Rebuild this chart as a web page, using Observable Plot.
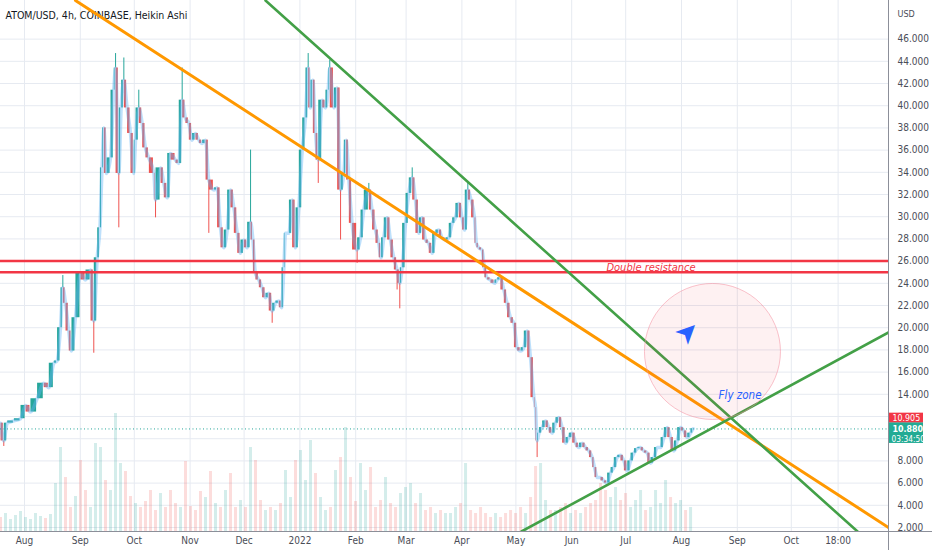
<!DOCTYPE html>
<html><head><meta charset="utf-8">
<script src="https://cdn.jsdelivr.net/npm/d3@7"></script>
<script src="https://cdn.jsdelivr.net/npm/@observablehq/plot@0.6"></script>
<style>
body{margin:0;background:#fff;}
#chart{position:relative;width:932px;height:550px;overflow:hidden;}
#chart svg{position:absolute;left:0;top:0;}
</style></head><body><div id="chart"></div>
<script>
// ---------- DATA ----------
const baseDate = Date.UTC(2021, 7, 1); // day 0 = 2021-08-01
// price samples: day offsets from base date and (Heikin Ashi) close
const priceDays = [
  -13.3,-11.5,-9.6,-5.9,-2.2,0.6,3.3,7.0,10.7,13.5,
  16.3,18.1,20.0,21.3,22.8,24.6,26.1,28.3,31.1,33.9,
  36.7,38.5,40.4,41.9,43.1,44.1,45.6,47.8,49.6,50.6,
  52.4,53.7,55.2,57.0,58.9,60.7,61.7,63.5,65.4,67.2,
  69.1,71.9,72.8,75.6,77.4,79.3,81.1,83.9,
  85.7,87.6,89.4,91.3,93.1,95.0,96.9,98.7,100.6,102.4,
  105.2,107.0,108.9,110.7,112.6,114.4,116.3,118.2,120.0,121.9,
  123.7,125.6,126.9,128.3,130.2,132.0,133.9,135.7,137.6,139.4,
  141.3,142.8,144.1,145.0,146.9,148.7,150.6,152.4,154.3,156.1,
  157.6,158.9,160.2,161.7,163.2,165.4,167.2,168.7,169.6,171.9,
  173.7,175.6,177.4,178.7,180.2,182.0,
  184.8,186.7,188.5,191.3,193.1,195.0,196.8,198.1,199.6,201.5,
  203.3,205.2,207.0,208.5,209.8,211.7,213.5,215.4,217.2,219.1,
  220.9,222.8,224.6,226.5,228.3,230.2,232.0,233.9,235.7,237.6,
  239.4,241.3,243.1,244.6,246.3,248.1,250.0,251.1,252.4,254.2,
  255.5,257.0,258.9,261.1,262.6,264.4,266.3,268.1,270.0,271.9,
  273.7,275.6,277.4,279.3,281.1,
  283.0,283.9,284.8,285.8,287.6,289.5,291.3,293.2,295.0,296.9,
  298.7,300.6,302.4,304.3,306.2,308.0,309.9,311.7,313.6,315.4,
  316.7,318.2,320.0,321.9,323.7,325.6,327.4,329.3,331.1,333.0,
  334.9,336.7,338.6,340.4,342.3,344.1,346.0,347.8,349.7,351.5,
  353.4,355.2,357.1,358.9,360.8,362.6,364.5,366.3,368.2,370.0,
  371.5
];
const priceCloses = [
  11.4,9.8,11.4,11.6,11.8,13.0,12.4,13.6,15.0,14.6,
  16.8,17.0,20.0,23.6,22.2,19.7,17.9,20.9,24.9,24.3,
  25.2,20.6,26.3,29.0,34.4,38.0,33.9,35.3,41.4,43.4,
  33.9,39.8,42.3,39.8,37.5,33.9,36.9,39.8,38.4,36.2,
  35.3,33.9,31.5,34.4,33.0,31.7,35.7,35.1,
  34.8,40.5,38.9,38.4,36.9,37.5,36.9,36.6,36.9,33.3,
  32.4,32.6,29.0,27.2,28.8,32.4,30.8,28.5,26.7,27.9,
  27.2,29.5,27.9,24.9,24.3,23.6,22.7,23.1,21.5,22.2,
  22.4,21.8,25.4,28.5,28.5,31.5,27.2,30.8,36.0,38.9,
  43.4,39.8,42.3,37.5,35.1,40.5,39.8,41.4,43.4,39.8,
  41.6,32.4,33.9,36.9,33.3,29.4,
  27.0,28.1,30.6,32.4,30.6,28.8,27.6,26.3,28.1,29.9,
  27.9,26.3,25.2,24.0,25.4,29.4,32.1,33.5,31.5,28.5,
  29.9,27.9,27.6,26.7,28.5,28.8,28.1,27.9,28.1,29.4,
  29.9,31.2,29.9,28.8,32.4,31.5,29.9,27.6,27.2,27.0,
  25.4,24.5,24.3,24.0,24.3,24.5,23.4,22.2,20.9,20.4,
  18.2,17.9,18.2,19.7,17.3,
  13.7,12.8,9.8,10.5,11.0,11.6,11.0,10.5,11.4,11.9,
  11.0,9.6,10.1,10.5,9.6,9.2,9.6,9.2,8.9,8.3,
  7.4,6.5,6.5,6.2,6.0,6.9,7.4,8.3,8.5,8.0,
  7.1,8.0,8.7,9.1,9.2,8.9,8.7,7.8,8.3,9.2,
  9.2,10.1,11.0,10.1,8.9,9.8,11.0,10.7,10.1,10.5,
  10.9
];
// visible long wicks: day offset and wick extreme
const wickDays = [-11.5,21.3,38.5,50.6,52.4,55.2,63.5,72.8,87.6,102.4,125.6,137.6,157.6,163.2,169.6,175.6,184.8,191.3,207.0,208.5,215.4,246.3,284.8];
const wickEnds = [9.3,24.7,17.7,44.7,29.0,44.3,41.4,29.9,43.4,28.5,36.0,20.4,44.7,33.0,44.1,27.9,25.8,33.0,23.4,21.7,34.4,33.0,8.3];
// volume (relative heights), regular steps from the first candle
const volStartDay = -13.33, volStepDays = 2.778;
const volumes = [
  14,18,12,16,20,14,12,18,15,13,
  17,48,84,54,24,35,71,41,24,88,
  84,51,41,118,68,60,35,28,24,30,
  41,21,38,24,41,28,24,70,25,21,
  40,34,60,28,24,41,58,24,31,24,
  84,71,31,21,24,21,28,61,34,71,
  81,51,91,58,34,21,24,61,74,104,
  54,30,68,41,64,24,31,54,28,24,
  38,44,48,28,38,21,24,18,21,18,
  18,24,28,68,21,18,24,18,14,18,
  14,18,21,18,24,18,34,65,68,31,
  21,21,24,28,18,21,18,24,28,31,
  48,41,34,44,31,38,24,31,41,21,
  24,41,28,51,34,28,31,21,24
];
// drawings
const resistanceLevels = [26, 25];
const trendNames  = ["orange", "green down", "green up"];
const trendColors = ["#ff9800", "#43a047", "#43a047"];
const trendStartDay = [28.3, 133.9, 276.1];
const trendStartPrice = [49.48, 49.48, 1.64];
const trendEndDay = [480, 462.8, 480];
const trendEndPrice = [2.0, 1.64, 19.57];
const zoneCenterDay = 382.2, zoneCenterPrice = 17.86;
const arrowDay = 368.3, arrowPrice = 19.6;
const labelResistance = {text: "Double resistance", day: 323.3, price: 25.45};
const labelFly = {text: "Fly zone", day: 385.6, price: 13.9};
const lastPrice = 10.880, markPrice = 10.905, countdown = "03:34:50";
// axes
const yTicks = d3.range(2, 47, 2);
const yTicksHidden = [10, 12]; // covered by the price labels
const xTickDates = ["2021-08-01","2021-09-01","2021-10-01","2021-11-01","2021-12-01","2022-01-01","2022-02-01","2022-03-01","2022-04-01","2022-05-01","2022-06-01","2022-07-01","2022-08-01","2022-09-01","2022-10-01","2022-10-27"];
const xTickLabels = ["Aug","Sep","Oct","Nov","Dec","2022","Feb","Mar","Apr","May","Jun","Jul","Aug","Sep","Oct","18:00"];
const title = "ATOM/USD, 4h, COINBASE, Heikin Ashi";

// ---------- BUILD ----------
const day = d => new Date(baseDate + d * 864e5);
const rows = priceDays.map((d, i) => ({date: day(d), close: priceCloses[i]}));
const bodies = rows.slice(1).map((r, i) => ({x1: rows[i].date, x2: r.date, y1: rows[i].close, y2: r.close, up: r.close >= rows[i].close}));
const wicks = wickDays.map((d, i) => {
  const k = priceDays.indexOf(d);
  return {date: day(d), y1: priceCloses[k], y2: wickEnds[i], up: wickEnds[i] > priceCloses[k]};
});
const vols = volumes.map((v, i) => {
  const d = volStartDay + i * volStepDays;
  let k = d3.bisectLeft(priceDays, d); k = Math.max(1, Math.min(priceDays.length - 1, k));
  return {date: day(d), v, up: priceCloses[k] >= priceCloses[k - 1]};
});
const trends = trendNames.flatMap((n, i) => [
  {name: n, color: trendColors[i], date: day(trendStartDay[i]), p: trendStartPrice[i]},
  {name: n, color: trendColors[i], date: day(trendEndDay[i]), p: trendEndPrice[i]}
]);
const tickDates = xTickDates.map(s => new Date(s + "T00:00:00Z"));
const tickLabel = new Map(tickDates.map((d, i) => [+d, xTickLabels[i]]));
const xDomain = [day(-13.33), day(480)];
const yDomain = [1.64, 49.48];
const UP = "#26a69a", DOWN = "#ef5350";

const common = {
  width: 932, height: 550, marginLeft: 0, marginRight: 44, marginTop: 0, marginBottom: 19,
  style: {background: "transparent", overflow: "visible", fontFamily: "'Liberation Sans Narrow','DejaVu Sans Condensed',sans-serif", fontSize: "10px", color: "#4a4d57"}
};
const root = document.getElementById("chart");

// layer 1: grid, axes, title
root.append(Plot.plot({...common, x: {type: "utc", domain: xDomain}, y: {domain: yDomain},
  marks: [
    Plot.gridY(yTicks, {stroke: "#e6eaf1", strokeOpacity: 1}),
    Plot.gridX(tickDates, {stroke: "#e6eaf1", strokeOpacity: 1}),
    Plot.axisY(yTicks.filter(t => !yTicksHidden.includes(t)), {anchor: "right", tickSize: 0, tickPadding: 9, tickFormat: d => d.toFixed(3), label: null}),
    Plot.axisX(tickDates, {anchor: "bottom", tickSize: 0, tickPadding: 5, tickFormat: d => tickLabel.get(+d), label: null}),
    Plot.text(["USD"], {frameAnchor: "top-right", dx: 9, dy: 10, textAnchor: "start", fontSize: 9}),
    Plot.text([title], {frameAnchor: "top-left", dx: 5, dy: 11, textAnchor: "start", fill: "#131722", fontSize: 10.5})
  ]}));

// layer 2: volume
root.append(Plot.plot({...common, x: {type: "utc", domain: xDomain, axis: null}, y: {domain: [0, 531], axis: null},
  marks: [
    Plot.ruleX(vols, {x: "date", y1: 0, y2: "v", stroke: d => d.up ? UP : DOWN, strokeOpacity: 0.2, strokeWidth: 3})
  ]}));

// layer 3: price & drawings
root.append(Plot.plot({...common, x: {type: "utc", domain: xDomain, axis: null}, y: {domain: yDomain, axis: null},
  marks: [
    Plot.ruleX(wicks, {x: "date", y1: "y1", y2: "y2", stroke: d => d.up ? UP : DOWN, strokeWidth: 1}),
    Plot.rect(bodies, {x1: "x1", x2: "x2", y1: "y1", y2: "y2", insetLeft: 0.5, insetRight: 0.5, fill: d => d.up ? UP : DOWN}),
    Plot.line(rows, {x: "date", y: "close", stroke: "#64b5f6", strokeOpacity: 0.42, strokeWidth: 3.5, curve: "monotone-x"}),
    Plot.ruleY([lastPrice], {stroke: UP, strokeDasharray: "1,2.5", strokeWidth: 1}),
    Plot.ruleY(resistanceLevels, {stroke: "#f23645", strokeWidth: 2.5}),
    Plot.line(trends, {x: "date", y: "p", z: "name", stroke: "color", strokeWidth: d => d.name === "orange" ? 3 : 2.6, clip: true}),
    Plot.dot([{date: day(zoneCenterDay), p: zoneCenterPrice}], {x: "date", y: "p", r: 68, fill: "#f23645", fillOpacity: 0.07, stroke: "#f48fa0", strokeOpacity: 0.55, strokeWidth: 1}),
    Plot.text([{date: day(arrowDay), p: arrowPrice}], {x: "date", y: "p", text: () => "\u27A4", rotate: -45, fontSize: 28, fill: "#2962ff", fontFamily: "DejaVu Sans"}),
    Plot.text([labelResistance], {x: d => day(d.day), y: "price", text: "text", textAnchor: "start", fill: "#f23645", fontStyle: "italic", fontSize: 11}),
    Plot.text([labelFly], {x: d => day(d.day), y: "price", text: "text", textAnchor: "start", fill: "#2962ff", fontStyle: "italic", fontSize: 11.5}),
    Plot.ruleX([xDomain[1]], {stroke: "#8c8f99", strokeWidth: 1, insetBottom: -19}),
    Plot.ruleY([yDomain[0]], {stroke: "#8c8f99", strokeWidth: 1, insetRight: -44}),
    Plot.rect([{x: xDomain[1], p: markPrice}], {x1: "x", x2: "x", y1: "p", y2: "p", insetLeft: 1, insetRight: -35, insetTop: -5, insetBottom: -5, dy: -10.5, fill: "#f23645"}),
    Plot.rect([{x: xDomain[1], p: lastPrice}], {x1: "x", x2: "x", y1: "p", y2: "p", insetLeft: 1, insetRight: -35, insetTop: -6, insetBottom: -14.5, fill: "#22ab94"}),
    Plot.text([{x: xDomain[1], p: markPrice}], {x: "x", y: "p", text: d => d.p.toFixed(3), dx: 4, dy: -10.5, textAnchor: "start", fill: "white", fontSize: 8.8}),
    Plot.text([{x: xDomain[1], p: lastPrice}], {x: "x", y: "p", text: d => d.p.toFixed(3), dx: 4, dy: 0, textAnchor: "start", fill: "white", fontSize: 8.8, fontWeight: "bold"}),
    Plot.text([{x: xDomain[1], p: lastPrice}], {x: "x", y: "p", text: () => countdown, dx: 3, dy: 10.5, textAnchor: "start", fill: "white", fontSize: 8.3})
  ]}));
</script></body></html>
